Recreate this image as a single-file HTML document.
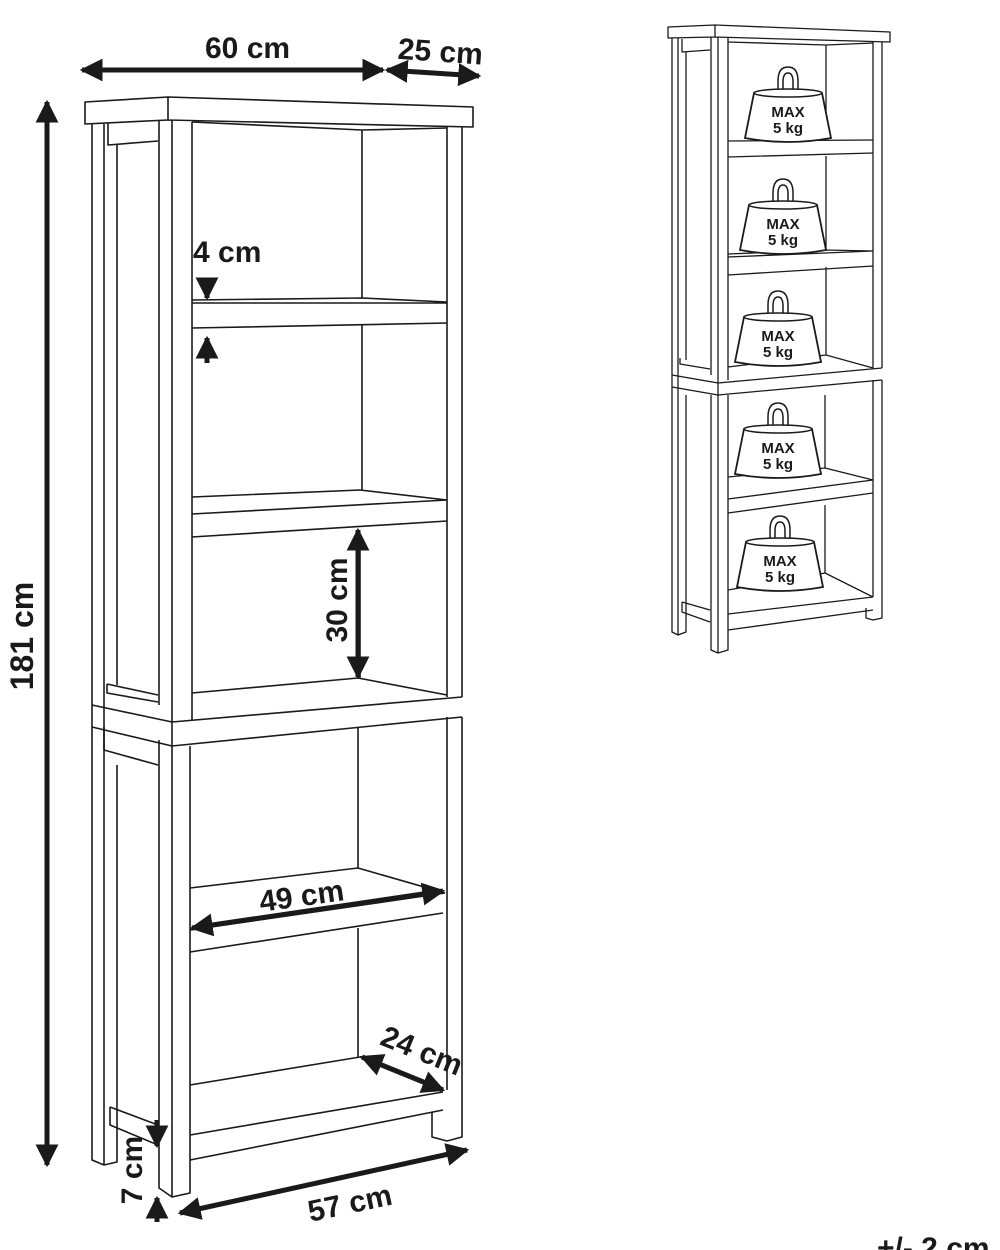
<!DOCTYPE html>
<html><head><meta charset="utf-8"><style>
html,body{margin:0;padding:0;background:#fff;}
svg{display:block;}
text{font-family:"Liberation Sans",sans-serif;font-weight:bold;fill:#1a1a1a;}
</style></head><body>
<svg width="1000" height="1250" viewBox="0 0 1000 1250" xmlns="http://www.w3.org/2000/svg">
<defs>
<marker id="ah" viewBox="0 0 10 10" refX="9" refY="5" markerWidth="4.6" markerHeight="4.6" orient="auto-start-reverse"><path d="M0,0 L10,5 L0,10 z" fill="#1a1a1a"/></marker>
</defs>
<g fill="none" stroke="#1a1a1a" stroke-width="1.6" stroke-linejoin="round">
<path d="M85,102 L168,97 L473,107 L473,127 L168,120 L85,124 Z M168,97 L168,120" fill="#fff"/>
<path d="M92,124 L92,1160 L104,1165 L117,1162 L117,1107"/>
<path d="M104,124 L104,1165"/>
<path d="M117,145 L117,685"/>
<path d="M117,765 L117,1107"/>
<path d="M108,123 L108,145 L158,141"/>
<path d="M107,684 L107,693 L158,702 M107,684 L158,695"/>
<path d="M92,705 L172,722 L462,697 M92,727 L172,746 L462,717 M172,722 L172,746"/>
<path d="M104,750 L158,765 M104,727 L104,750"/>
<path d="M110,1107 L158,1125 M110,1107 L110,1125 L158,1145"/>
<path d="M159,120 L159,705 M172,120 L172,722 M192,122 L192,720 M159,740 L159,1188 L172,1197 L190,1193 L190,746 M172,746 L172,1197"/>
<path d="M447,127 L447,697 M462,127 L462,697 M447,717 L447,1090 M462,717 L462,1137 L447,1141 L432,1137 L432,1112"/>
<path d="M362,130 L362,298 M362,325 L362,490 M360,540 L360,678 M358,728 L358,868 M358,928 L358,1057"/>
<path d="M192,122 L362,130 L447,128"/>
<path d="M192,300 L362,298 L447,302 M192,303 L447,303 M192,328 L447,323"/>
<path d="M192,497 L360,490 L447,500 M192,514 L447,500 M192,537 L447,521"/>
<path d="M192,693 L358,678 L447,695"/>
<path d="M190,888 L358,868 L445,893 M190,930 L445,893 M190,952 L443,913"/>
<path d="M190,1085 L360,1057 L443,1090 M190,1135 L443,1092 M190,1160 L443,1110"/>
</g>

<g stroke="#1a1a1a" stroke-width="5" fill="none" marker-start="url(#ah)" marker-end="url(#ah)">
<line x1="82" y1="70" x2="383" y2="70"/>
<line x1="387" y1="70" x2="479" y2="76"/>
<line x1="47" y1="102" x2="47" y2="1165"/>
<line x1="358" y1="530" x2="358" y2="677"/>
<line x1="192" y1="928" x2="443" y2="891"/>
<line x1="362" y1="1057" x2="443" y2="1090"/>
<line x1="180" y1="1213" x2="467" y2="1150"/>
</g>
<g stroke="#1a1a1a" stroke-width="5" fill="none">
<line x1="207" y1="283" x2="207" y2="298" marker-end="url(#ah)"/>
<line x1="207" y1="363" x2="207" y2="338" marker-end="url(#ah)"/>
<line x1="157" y1="1120" x2="157" y2="1146" marker-end="url(#ah)"/>
<line x1="157" y1="1222" x2="157" y2="1198" marker-end="url(#ah)"/>
</g>

<text x="205" y="58" font-size="30">60 cm</text>
<text x="398" y="62" font-size="30" transform="rotate(4 445 50)">25 cm</text>
<text font-size="32" transform="translate(33,636) rotate(-90)" text-anchor="middle">181 cm</text>
<text x="193" y="262" font-size="30">4 cm</text>
<text font-size="30" transform="translate(347,600) rotate(-90)" text-anchor="middle">30 cm</text>
<text font-size="30" transform="translate(303,906) rotate(-8)" text-anchor="middle">49 cm</text>
<text font-size="30" transform="translate(418,1060) rotate(22)" text-anchor="middle">24 cm</text>
<text font-size="30" transform="translate(142,1170) rotate(-90)" text-anchor="middle">7 cm</text>
<text font-size="30" transform="translate(352,1213) rotate(-12)" text-anchor="middle">57 cm</text>
<text x="877" y="1258" font-size="30">+/- 2 cm</text>

<g fill="none" stroke="#1a1a1a" stroke-width="1.3" stroke-linejoin="round">
<path d="M668,27 L715,25 L890,32 L890,42 L715,37 L668,38 Z M715,25 L715,37" fill="#fff"/>
<path d="M672,38 L672,632 L678,635 L686,632 L686,600 M678,38 L678,635 M686,52 L686,360 M686,395 L686,600"/>
<path d="M682,39 L682,52 L710,50"/>
<path d="M680,358 L680,364 L710,369"/>
<path d="M672,375 L718,383 L882,368 M672,387 L718,395 L882,380 M718,383 L718,395"/>
<path d="M682,602 L682,612 L710,622 M682,602 L710,610"/>
<path d="M711,37 L711,375 M718,37 L718,383 M728,38 L728,380 M711,395 L711,650 L718,653 L728,650 L728,395 M718,395 L718,653"/>
<path d="M873,42 L873,368 M882,42 L882,368 M873,380 L873,597 M882,380 L882,618 L873,620 L866,618 L866,608"/>
<path d="M728,42 L826,45 L873,43"/>
<path d="M826,45 L826,140 M826,156 L826,250 M826,267 L826,355 M825,395 L825,468 M825,505 L825,573"/>
<path d="M728,141 L873,140 M728,157 L873,153"/>
<path d="M728,254 L825,250 L873,251 M728,257 L873,251 M728,275 L873,266"/>
<path d="M728,367 L826,355 L873,368"/>
<path d="M728,477 L825,468 L873,480 M728,499 L873,480 M728,513 L873,493"/>
<path d="M728,590 L825,573 L873,597 M728,614 L873,597 M728,630 L873,610"/>
</g>

<g transform="translate(788,143)">
<path d="M-10,-50 L-10,-62 Q-10,-76 0,-76 Q10,-76 10,-62 L10,-50 M-5,-50 L-5,-61 Q-5,-70 0,-70 Q5,-70 5,-61 L5,-50" fill="#fff" stroke="#1a1a1a" stroke-width="1.5"/>
<path d="M-34,-50 L-43,-5 Q0,3 43,-5 L34,-50 Z" fill="#fff" stroke="#1a1a1a" stroke-width="1.8"/>
<ellipse cx="0" cy="-50" rx="34" ry="4" fill="#fff" stroke="#1a1a1a" stroke-width="1.5"/>
<text x="0" y="-26" font-size="15" text-anchor="middle">MAX</text>
<text x="0" y="-10" font-size="15" text-anchor="middle">5 kg</text>
</g>
<g transform="translate(783,255)">
<path d="M-10,-50 L-10,-62 Q-10,-76 0,-76 Q10,-76 10,-62 L10,-50 M-5,-50 L-5,-61 Q-5,-70 0,-70 Q5,-70 5,-61 L5,-50" fill="#fff" stroke="#1a1a1a" stroke-width="1.5"/>
<path d="M-34,-50 L-43,-5 Q0,3 43,-5 L34,-50 Z" fill="#fff" stroke="#1a1a1a" stroke-width="1.8"/>
<ellipse cx="0" cy="-50" rx="34" ry="4" fill="#fff" stroke="#1a1a1a" stroke-width="1.5"/>
<text x="0" y="-26" font-size="15" text-anchor="middle">MAX</text>
<text x="0" y="-10" font-size="15" text-anchor="middle">5 kg</text>
</g>
<g transform="translate(778,367)">
<path d="M-10,-50 L-10,-62 Q-10,-76 0,-76 Q10,-76 10,-62 L10,-50 M-5,-50 L-5,-61 Q-5,-70 0,-70 Q5,-70 5,-61 L5,-50" fill="#fff" stroke="#1a1a1a" stroke-width="1.5"/>
<path d="M-34,-50 L-43,-5 Q0,3 43,-5 L34,-50 Z" fill="#fff" stroke="#1a1a1a" stroke-width="1.8"/>
<ellipse cx="0" cy="-50" rx="34" ry="4" fill="#fff" stroke="#1a1a1a" stroke-width="1.5"/>
<text x="0" y="-26" font-size="15" text-anchor="middle">MAX</text>
<text x="0" y="-10" font-size="15" text-anchor="middle">5 kg</text>
</g>
<g transform="translate(778,479)">
<path d="M-10,-50 L-10,-62 Q-10,-76 0,-76 Q10,-76 10,-62 L10,-50 M-5,-50 L-5,-61 Q-5,-70 0,-70 Q5,-70 5,-61 L5,-50" fill="#fff" stroke="#1a1a1a" stroke-width="1.5"/>
<path d="M-34,-50 L-43,-5 Q0,3 43,-5 L34,-50 Z" fill="#fff" stroke="#1a1a1a" stroke-width="1.8"/>
<ellipse cx="0" cy="-50" rx="34" ry="4" fill="#fff" stroke="#1a1a1a" stroke-width="1.5"/>
<text x="0" y="-26" font-size="15" text-anchor="middle">MAX</text>
<text x="0" y="-10" font-size="15" text-anchor="middle">5 kg</text>
</g>
<g transform="translate(780,592)">
<path d="M-10,-50 L-10,-62 Q-10,-76 0,-76 Q10,-76 10,-62 L10,-50 M-5,-50 L-5,-61 Q-5,-70 0,-70 Q5,-70 5,-61 L5,-50" fill="#fff" stroke="#1a1a1a" stroke-width="1.5"/>
<path d="M-34,-50 L-43,-5 Q0,3 43,-5 L34,-50 Z" fill="#fff" stroke="#1a1a1a" stroke-width="1.8"/>
<ellipse cx="0" cy="-50" rx="34" ry="4" fill="#fff" stroke="#1a1a1a" stroke-width="1.5"/>
<text x="0" y="-26" font-size="15" text-anchor="middle">MAX</text>
<text x="0" y="-10" font-size="15" text-anchor="middle">5 kg</text>
</g>
</svg>
</body></html>
